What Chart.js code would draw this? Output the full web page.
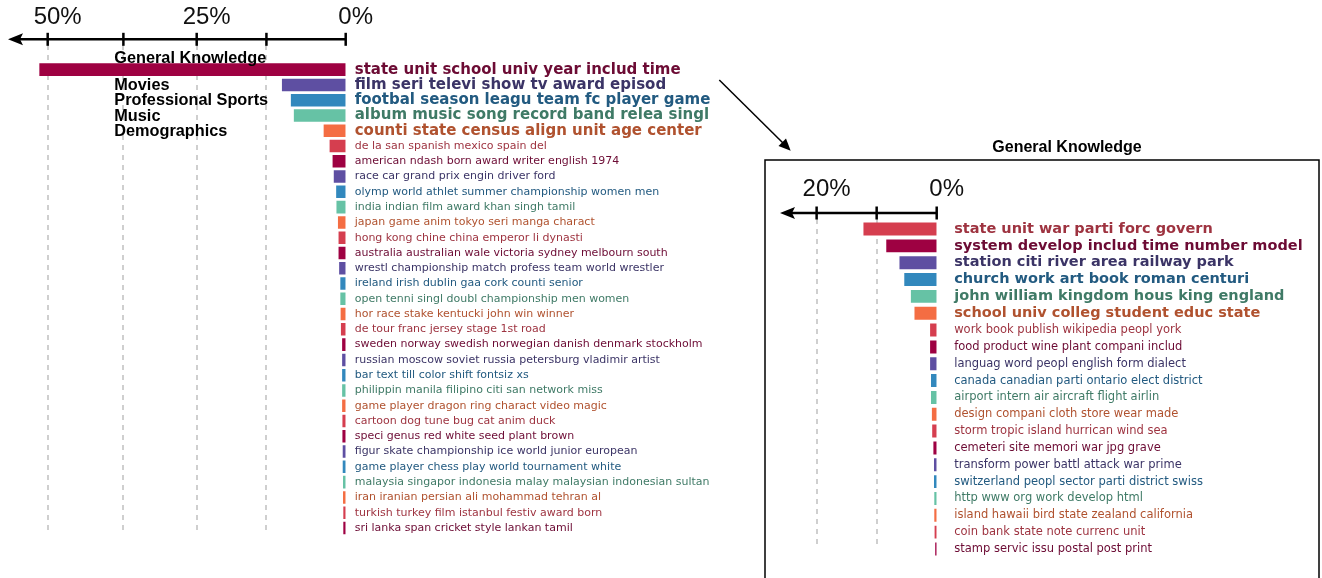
<!DOCTYPE html>
<html>
<head>
<meta charset="utf-8">
<script src="https://cdn.jsdelivr.net/npm/chart.js@4"></script>
<style>
  body { margin: 0; background: #fff; width: 1322px; height: 578px; overflow: hidden; position: relative; }
  canvas { position: absolute; top: 0; }
  #left-chart { left: 0; }
  #right-chart { left: 700px; }
</style>
</head>
<body>
<canvas id="left-chart" width="760" height="578"></canvas>
<canvas id="right-chart" width="622" height="578"></canvas>
<script>
// left panel: all topics
const leftTopics = [
    'state unit school univ year includ time',
    'film seri televi show tv award episod',
    'footbal season leagu team fc player game',
    'album music song record band relea singl',
    'counti state census align unit age center',
    'de la san spanish mexico spain del',
    'american ndash born award writer english 1974',
    'race car grand prix engin driver ford',
    'olymp world athlet summer championship women men',
    'india indian film award khan singh tamil',
    'japan game anim tokyo seri manga charact',
    'hong kong chine china emperor li dynasti',
    'australia australian wale victoria sydney melbourn south',
    'wrestl championship match profess team world wrestler',
    'ireland irish dublin gaa cork counti senior',
    'open tenni singl doubl championship men women',
    'hor race stake kentucki john win winner',
    'de tour franc jersey stage 1st road',
    'sweden norway swedish norwegian danish denmark stockholm',
    'russian moscow soviet russia petersburg vladimir artist',
    'bar text till color shift fontsiz xs',
    'philippin manila filipino citi san network miss',
    'game player dragon ring charact video magic',
    'cartoon dog tune bug cat anim duck',
    'speci genus red white seed plant brown',
    'figur skate championship ice world junior european',
    'game player chess play world tournament white',
    'malaysia singapor indonesia malay malaysian indonesian sultan',
    'iran iranian persian ali mohammad tehran al',
    'turkish turkey film istanbul festiv award born',
    'sri lanka span cricket style lankan tamil'
];
const leftShares = [51.4, 10.7, 9.2, 8.7, 3.7, 2.7, 2.2, 2.0, 1.6, 1.55, 1.3, 1.2, 1.2, 1.1, 0.9, 0.9,
    0.85, 0.8, 0.6, 0.6, 0.6, 0.6, 0.6, 0.55, 0.55, 0.5, 0.5, 0.45, 0.45, 0.4, 0.4];
const leftGroups = ['General Knowledge', 'Movies', 'Professional Sports', 'Music', 'Demographics'];
const leftTickValues = [0, 13.3, 25, 37.3, 50];
const leftTickLabels = ['0%', '', '25%', '', '50%'];

// right panel: zoom into General Knowledge
const rightTitle = 'General Knowledge';
const rightTopics = [
    'state unit war parti forc govern',
    'system develop includ time number model',
    'station citi river area railway park',
    'church work art book roman centuri',
    'john william kingdom hous king england',
    'school univ colleg student educ state',
    'work book publish wikipedia peopl york',
    'food product wine plant compani includ',
    'languag word peopl english form dialect',
    'canada canadian parti ontario elect district',
    'airport intern air aircraft flight airlin',
    'design compani cloth store wear made',
    'storm tropic island hurrican wind sea',
    'cemeteri site memori war jpg grave',
    'transform power battl attack war prime',
    'switzerland peopl sector parti district swiss',
    'http www org work develop html',
    'island hawaii bird state zealand california',
    'coin bank state note currenc unit',
    'stamp servic issu postal post print'
];
const rightShares = [12.2, 8.4, 6.2, 5.4, 4.3, 3.7, 1.1, 1.1, 1.1, 0.95, 0.95, 0.8, 0.75, 0.55,
    0.45, 0.45, 0.4, 0.4, 0.35, 0.25];
const rightTickValues = [0, 10, 20];
const rightTickLabels = ['0%', '', '20%'];

const barColors = ['#9e0142', '#5e4fa2', '#3288bd', '#66c2a5', '#f46d43', '#d53e4f'];
const textColors = ['#6c0b34', '#3b3466', '#225a80', '#3f7a66', '#b0522f', '#9e3340'];

// axis line with arrow, cross ticks and dashed gridlines
function axisDecor(cfg) {
    return {
        id: 'axisDecor',
        beforeDatasetsDraw(chart) {
            const x = chart.scales.x, ctx = chart.ctx;
            ctx.save();
            ctx.strokeStyle = '#cfcfcf';
            ctx.lineWidth = 2;
            ctx.setLineDash([5, 5]);
            cfg.ticks.forEach(v => {
                if (v === 0) return;
                const px = Math.round(x.getPixelForValue(v));
                ctx.beginPath();
                ctx.moveTo(px, cfg.gridTop);
                ctx.lineTo(px, cfg.gridBottom);
                ctx.stroke();
            });
            ctx.restore();
        },
        afterDraw(chart) {
            const x = chart.scales.x, ctx = chart.ctx;
            const right = x.getPixelForValue(0), tip = chart.chartArea.left;
            ctx.save();
            ctx.strokeStyle = '#000';
            ctx.fillStyle = '#000';
            ctx.lineWidth = 2.5;
            ctx.beginPath();
            ctx.moveTo(tip + 10, cfg.axisY);
            ctx.lineTo(right, cfg.axisY);
            ctx.stroke();
            ctx.beginPath();
            ctx.moveTo(tip, cfg.axisY);
            ctx.lineTo(tip + 15, cfg.axisY - 6);
            ctx.lineTo(tip + 12, cfg.axisY);
            ctx.lineTo(tip + 15, cfg.axisY + 6);
            ctx.closePath();
            ctx.fill();
            cfg.ticks.forEach(v => {
                const px = x.getPixelForValue(v);
                ctx.beginPath();
                ctx.moveTo(px, cfg.axisY - 6.5);
                ctx.lineTo(px, cfg.axisY + 6.5);
                ctx.stroke();
            });
            if (cfg.extra) cfg.extra(chart, ctx);
            ctx.restore();
        }
    };
}

function topicFont(bold, size) {
    return { family: 'DejaVu Sans', size: size, weight: bold ? 'bold' : 'normal' };
}

// left chart
new Chart(document.getElementById('left-chart'), {
    type: 'bar',
    data: {
        labels: leftTopics,
        datasets: [{
            data: leftShares,
            backgroundColor: leftTopics.map((t, i) => barColors[i % 6]),
            barPercentage: 0.82,
            categoryPercentage: 1
        }]
    },
    options: {
        indexAxis: 'y',
        responsive: false,
        animation: false,
        layout: { padding: { left: 8, right: 0, top: 0, bottom: 42.4 } },
        plugins: { legend: { display: false }, tooltip: { enabled: false } },
        scales: {
            x: {
                position: 'top',
                reverse: true,
                min: 0,
                max: 56.66,
                grid: { display: false, drawTicks: false },
                border: { display: false },
                afterBuildTicks: s => { s.ticks = leftTickValues.map(v => ({ value: v })); },
                afterFit: s => { s.height = 62; },
                ticks: {
                    callback: (v, i) => leftTickLabels[i],
                    font: { family: 'Liberation Sans', size: 24 },
                    color: '#111',
                    padding: 30,
                    labelOffset: 10,
                    maxRotation: 0,
                    autoSkip: false
                }
            },
            y: {
                position: 'right',
                grid: { display: false, drawTicks: false },
                border: { display: false },
                afterFit: s => { s.width = 760 - 345.7; s.paddingTop = 0; s.paddingBottom = 0; },
                ticks: {
                    autoSkip: false,
                    crossAlign: 'near',
                    padding: 9,
                    font: c => topicFont(c.index < 5, c.index < 5 ? 15 : 11),
                    color: c => textColors[c.index % 6]
                }
            }
        }
    },
    plugins: [axisDecor({
        ticks: leftTickValues, axisY: 39.3, gridTop: 45, gridBottom: 531,
        extra: (chart, ctx) => {
            const y = chart.scales.y;
            ctx.font = 'bold 16.3px "Liberation Sans"';
            ctx.fillStyle = '#000';
            ctx.textBaseline = 'middle';
            ctx.textAlign = 'left';
            leftGroups.forEach((g, i) => {
                const py = y.getPixelForValue(i) + (i === 0 ? -11.5 : 0.8);
                ctx.fillText(g, 114.3, py);
            });
        }
    })]
});

// right chart (inset)
new Chart(document.getElementById('right-chart'), {
    type: 'bar',
    data: {
        labels: rightTopics,
        datasets: [{
            data: rightShares,
            backgroundColor: rightTopics.map((t, i) => barColors[(i + 5) % 6]),
            barPercentage: 0.77,
            categoryPercentage: 1
        }]
    },
    options: {
        indexAxis: 'y',
        responsive: false,
        animation: false,
        layout: { padding: { left: 80, right: 0, top: 0, bottom: 20.6 } },
        plugins: { legend: { display: false }, tooltip: { enabled: false } },
        scales: {
            x: {
                position: 'top',
                reverse: true,
                min: 0,
                max: 26.1,
                grid: { display: false, drawTicks: false },
                border: { display: false },
                afterBuildTicks: s => { s.ticks = rightTickValues.map(v => ({ value: v })); },
                afterFit: s => { s.height = 220.6; },
                ticks: {
                    callback: (v, i) => rightTickLabels[i],
                    font: { family: 'Liberation Sans', size: 24 },
                    color: '#111',
                    padding: 17,
                    labelOffset: 10,
                    maxRotation: 0,
                    autoSkip: false
                }
            },
            y: {
                position: 'right',
                grid: { display: false, drawTicks: false },
                border: { display: false },
                afterFit: s => { s.width = 622 - 236.7; s.paddingTop = 0; s.paddingBottom = 0; },
                ticks: {
                    autoSkip: false,
                    crossAlign: 'near',
                    padding: 17.5,
                    font: c => topicFont(c.index < 6, c.index < 6 ? 14.5 : 11.5),
                    color: c => textColors[(c.index + 5) % 6]
                }
            }
        }
    },
    plugins: [axisDecor({
        ticks: rightTickValues, axisY: 213, gridTop: 219, gridBottom: 549,
        extra: (chart, ctx) => {
            // frame and title
            ctx.lineWidth = 1.5;
            ctx.strokeRect(65, 160, 554, 460);
            ctx.font = 'bold 16px "Liberation Sans"';
            ctx.textAlign = 'center';
            ctx.textBaseline = 'middle';
            ctx.fillText(rightTitle, 367, 148);
            // pointer from the big bar
            ctx.lineWidth = 1.5;
            ctx.beginPath();
            ctx.moveTo(19.3, 80);
            ctx.lineTo(84, 144);
            ctx.stroke();
            ctx.beginPath();
            ctx.moveTo(90.7, 150.7);
            ctx.lineTo(78.5, 146);
            ctx.lineTo(86, 138.5);
            ctx.closePath();
            ctx.fill();
        }
    })]
});
</script>
</body>
</html>
